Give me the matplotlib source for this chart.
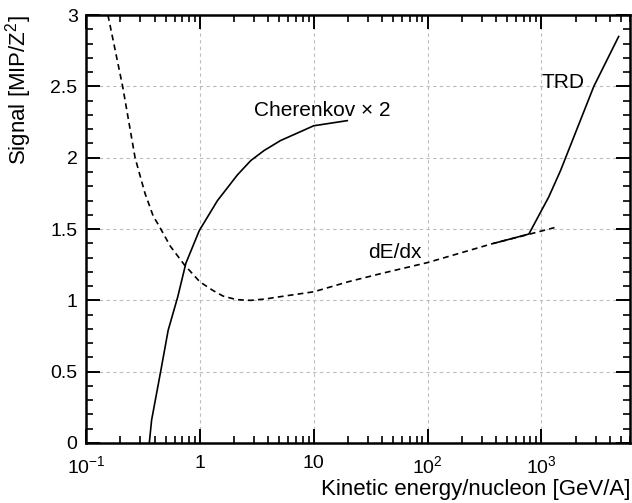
import matplotlib
matplotlib.use("Agg")
import matplotlib.pyplot as plt
from matplotlib.ticker import FixedLocator, LogLocator, MultipleLocator, FixedFormatter, NullFormatter

plt.rcParams['font.family'] = ['Liberation Sans', 'DejaVu Sans']
plt.rcParams['mathtext.fontset'] = 'custom'
plt.rcParams['mathtext.rm'] = 'Liberation Sans'
plt.rcParams['mathtext.it'] = 'Liberation Sans:italic'

# energy loss (dE/dx), dashed
dedx_e = [0.156, 0.21, 0.27, 0.33, 0.39, 0.44, 0.55, 0.73, 1.0, 1.3, 1.6, 2.1, 2.8, 3.8,
          5.0, 10, 20, 40, 100, 380, 750, 1300]
dedx_s = [3.0, 2.5, 2.0, 1.75, 1.59, 1.52, 1.38, 1.25, 1.13, 1.07, 1.03, 1.005, 1.0, 1.01,
          1.025, 1.06, 1.13, 1.19, 1.265, 1.40, 1.46, 1.51]

# Cherenkov signal (x2)
cher_e = [0.36, 0.377, 0.455, 0.527, 0.64, 0.754, 0.99, 1.43, 2.14, 2.8, 3.66, 5.1, 10, 19.7]
cher_s = [0.0, 0.16, 0.51, 0.79, 1.025, 1.26, 1.49, 1.70, 1.88, 1.98, 2.05, 2.12, 2.224, 2.26]

# transition radiation detector
trd_e = [383, 775, 1160, 1470, 2880, 4760]
trd_s = [1.40, 1.465, 1.726, 1.91, 2.5, 2.85]

xticks = [0.1, 1, 10, 100, 1000]
xticklabels = ['$\\mathregular{10^{-1}}$', '1', '10', '$\\mathregular{10^{2}}$', '$\\mathregular{10^{3}}$']
yticks = [0, 0.5, 1, 1.5, 2, 2.5, 3]
yticklabels = ['0', '0.5', '1', '1.5', '2', '2.5', '3']

fig = plt.figure(figsize=(6.32, 5.03), dpi=100)
ax = fig.add_axes([0.136, 0.1193, 0.861, 0.8507])

ax.plot(dedx_e, dedx_s, color='black', lw=1.2, dashes=(3.5, 2.5))
ax.plot(cher_e, cher_s, color='black', lw=1.2)
ax.plot(trd_e, trd_s, color='black', lw=1.2)

ax.set_xscale('log')
ax.set_xlim(0.1, 6000)
ax.set_ylim(0, 3)

ax.xaxis.set_major_locator(FixedLocator(xticks))
ax.xaxis.set_major_formatter(FixedFormatter(xticklabels))
ax.xaxis.set_minor_locator(LogLocator(base=10, subs=range(2, 10), numticks=20))
ax.xaxis.set_minor_formatter(NullFormatter())
ax.yaxis.set_major_locator(FixedLocator(yticks))
ax.yaxis.set_major_formatter(FixedFormatter(yticklabels))
ax.yaxis.set_minor_locator(MultipleLocator(0.1))

ax.tick_params(which='both', direction='in', top=True, right=True, labelsize=14, colors='black')
ax.tick_params(which='major', length=10, width=1.4)
ax.tick_params(which='minor', length=5, width=1.2)
ax.tick_params(axis='x', which='major', pad=9)
ax.tick_params(axis='y', which='major', pad=6)
for s in ax.spines.values():
    s.set_linewidth(1.8)

ax.grid(True, which='major', color='#bcbcbc', lw=0.8, linestyle=(0, (3, 3)))
ax.set_axisbelow(True)

ax.text(2.98, 2.29, 'Cherenkov \u00d7 2', fontsize=15, ha='left', va='baseline')
ax.text(29.8, 1.30, 'dE/dx', fontsize=15, ha='left', va='baseline')
ax.text(1010, 2.49, 'TRD', fontsize=15, ha='left', va='baseline')

ax.set_xlabel('Kinetic energy/nucleon [GeV/A]', fontsize=16, loc='right')
ax.set_ylabel('Signal [MIP/Z$\\mathregular{^2}$]', fontsize=16, loc='top')
ax.xaxis.set_label_coords(1.0, -0.084)
ax.yaxis.set_label_coords(-0.095, 1.0)

fig.savefig('out.png', dpi=100)
